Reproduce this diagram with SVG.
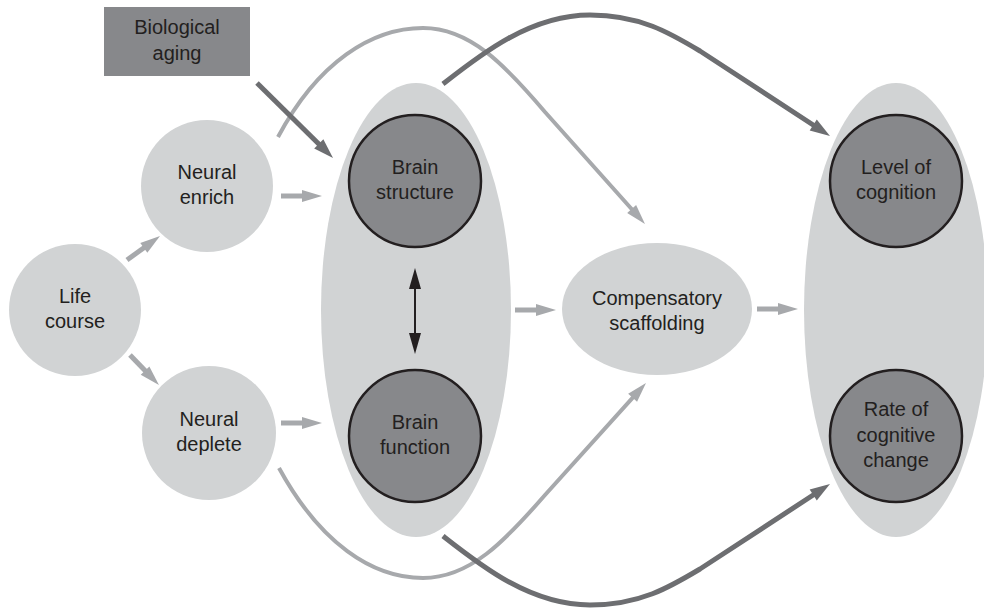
<svg xmlns="http://www.w3.org/2000/svg" width="984" height="608" viewBox="0 0 984 608">
<style>
.light{fill:#d1d3d4;stroke:none}
.dark{fill:#87888b;stroke:#231f20;stroke-width:2.5}
.box{fill:#87888b;stroke:none}
text{font-family:"Liberation Sans",Arial,sans-serif;font-size:20px;fill:#231f20;text-anchor:middle}
.la{fill:none;stroke:#a7a9ac;stroke-width:5;marker-end:url(#hl)}
.lc{fill:none;stroke:#a7a9ac;stroke-width:4;marker-end:url(#hl)}
.da{fill:none;stroke:#6d6e71;stroke-width:5;marker-end:url(#hd)}
.ba{fill:none;stroke:#231f20;stroke-width:2;marker-start:url(#hb);marker-end:url(#hb)}
</style>
<defs>
<marker id="hl" viewBox="-11 -7 22 14" markerWidth="22" markerHeight="14" refX="0" refY="0" orient="auto" markerUnits="userSpaceOnUse"><path d="M10,0 L-10,-6 L-10,6 Z" fill="#a7a9ac"/></marker>
<marker id="hd" viewBox="-11 -7 22 14" markerWidth="22" markerHeight="14" refX="0" refY="0" orient="auto" markerUnits="userSpaceOnUse"><path d="M10,0 L-10,-6.5 L-10,6.5 Z" fill="#6d6e71"/></marker>
<marker id="hb" viewBox="-10 -7 23 14" markerWidth="23" markerHeight="14" refX="0" refY="0" orient="auto-start-reverse" markerUnits="userSpaceOnUse"><path d="M12,0 L-9,-6 L-9,6 Z" fill="#231f20"/></marker>
</defs>
<g id="brain-group"><ellipse class="light" cx="416" cy="310" rx="95" ry="227"/></g>
<g id="cognition-group"><ellipse class="light" cx="896" cy="310" rx="92" ry="227"/></g>
<g id="biological-aging"><rect class="box" x="104" y="7" width="146" height="69"/><text x="177" y="34">Biological</text><text x="177" y="60">aging</text></g>
<g id="life-course"><circle class="light" cx="75" cy="310" r="66"/><text x="75" y="303">Life</text><text x="75" y="328">course</text></g>
<g id="neural-enrich"><circle class="light" cx="207" cy="186" r="66"/><text x="207" y="179">Neural</text><text x="207" y="204">enrich</text></g>
<g id="neural-deplete"><circle class="light" cx="209" cy="433" r="67"/><text x="209" y="426">Neural</text><text x="209" y="451">deplete</text></g>
<g id="brain-structure"><circle class="dark" cx="415" cy="181" r="66"/><text x="415" y="174">Brain</text><text x="415" y="199">structure</text></g>
<g id="brain-function"><circle class="dark" cx="415" cy="436" r="66"/><text x="415" y="429">Brain</text><text x="415" y="454">function</text></g>
<g id="compensatory-scaffolding"><ellipse class="light" cx="657" cy="309" rx="95" ry="66"/><text x="657" y="305">Compensatory</text><text x="657" y="330">scaffolding</text></g>
<g id="level-of-cognition"><circle class="dark" cx="896" cy="181" r="66"/><text x="896" y="174">Level of</text><text x="896" y="199">cognition</text></g>
<g id="rate-of-change"><circle class="dark" cx="896" cy="436" r="66"/><text x="896" y="416">Rate of</text><text x="896" y="442">cognitive</text><text x="896" y="467">change</text></g>
<g id="connectors">
<path class="la" d="M127,260 L151.9,241.9"/>
<path class="la" d="M130,355 L152,377.8"/>
<path class="la" d="M281,196 L312,196"/>
<path class="la" d="M281,423 L312,423"/>
<path class="la" d="M515,310 L546,310"/>
<path class="la" d="M757,309 L788,309"/>
<path class="lc" d="M278,137 C318,62 372,28 423,28 C470,28 505,65 545,112 L638.3,216.5"/>
<path class="lc" d="M279,468 C320,543 372,578 423,578 C470,578 505,541 545,495 L639.3,390.4"/>
<path class="da" d="M257,83 L325.9,151"/>
<path class="da" d="M443,84 C480,55 530,15 590,15 C640,15 670,33 700,51 L821.6,130.5"/>
<path class="da" d="M443,536 C480,565 530,605 590,605 C640,605 670,587 700,569 L821.6,489.5"/>
<path class="ba" d="M415,280 L415,342"/>
</g>
</svg>
